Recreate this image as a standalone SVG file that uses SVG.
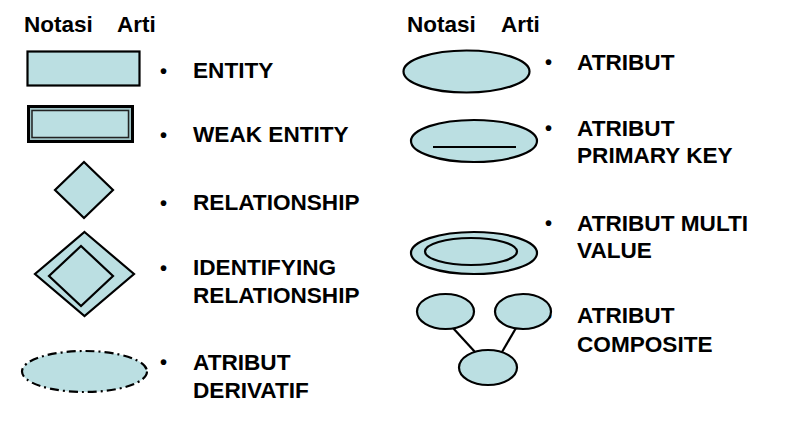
<svg xmlns="http://www.w3.org/2000/svg" width="795" height="424" viewBox="0 0 795 424">
<style>
.hd{font-family:"Liberation Sans",Arial,sans-serif;font-weight:bold;font-size:22.5px;fill:#000}
.lb{font-family:"Liberation Sans",Arial,sans-serif;font-weight:bold;font-size:22.6px;fill:#000}
.bl{font-family:"Liberation Sans",Arial,sans-serif;font-weight:bold;font-size:20px;fill:#000}
.sh{fill:#bbdfe2;stroke:#000;stroke-width:2.2}
.ln{stroke:#000;stroke-width:2.2;fill:none}
</style>
<rect width="795" height="424" fill="#fff"/>
<g id="headers">
<text class="hd" x="24" y="32">Notasi</text>
<text class="hd" x="117" y="32">Arti</text>
<text class="hd" x="407" y="32">Notasi</text>
<text class="hd" x="501" y="32">Arti</text>
</g>
<g id="entity">
<rect class="sh" x="27.5" y="51.5" width="112" height="34" stroke-width="3"/>
<text class="bl" x="160" y="78">•</text>
<text class="lb" x="193" y="78">ENTITY</text>
</g>
<g id="weak-entity">
<rect x="28.5" y="106.5" width="104" height="35" fill="#9fc3c6" stroke="#000" stroke-width="3"/>
<rect x="32" y="110.5" width="96.5" height="27" fill="#bbdfe2" stroke="#222" stroke-width="1.5"/>
<text class="bl" x="160" y="142">•</text>
<text class="lb" x="193" y="142">WEAK ENTITY</text>
</g>
<g id="relationship">
<polygon class="sh" points="84,162 113,190 84,218 55,190"/>
<text class="bl" x="160" y="210">•</text>
<text class="lb" x="193" y="210">RELATIONSHIP</text>
</g>
<g id="identifying-relationship">
<polygon class="sh" points="84.5,232 134,274 84.5,316 35,274"/>
<polygon class="sh" points="81,246 113,276 81,306 49,276"/>
<text class="bl" x="160" y="275">•</text>
<text class="lb" x="193" y="275">IDENTIFYING</text>
<text class="lb" x="193" y="303">RELATIONSHIP</text>
</g>
<g id="atribut-derivatif">
<ellipse class="sh" cx="84.5" cy="371.5" rx="62.5" ry="20.5" stroke-dasharray="9 4 2 4"/>
<text class="bl" x="160" y="369">•</text>
<text class="lb" x="193" y="370">ATRIBUT</text>
<text class="lb" x="193" y="398">DERIVATIF</text>
</g>
<g id="atribut">
<ellipse class="sh" cx="466.5" cy="71.5" rx="63" ry="21"/>
<text class="bl" x="545" y="69">•</text>
<text class="lb" x="577" y="70">ATRIBUT</text>
</g>
<g id="atribut-primary-key">
<ellipse class="sh" cx="474" cy="141" rx="63" ry="21"/>
<line class="ln" x1="433" y1="147" x2="516" y2="147" stroke-width="2.5"/>
<text class="bl" x="545" y="135">•</text>
<text class="lb" x="577" y="136">ATRIBUT</text>
<text class="lb" x="577" y="163">PRIMARY KEY</text>
</g>
<g id="atribut-multi-value">
<ellipse class="sh" cx="474" cy="253" rx="63" ry="21"/>
<ellipse class="sh" cx="471" cy="251.5" rx="46" ry="13.5"/>
<text class="bl" x="545" y="230">•</text>
<text class="lb" x="577" y="231">ATRIBUT MULTI</text>
<text class="lb" x="577" y="258">VALUE</text>
</g>
<g id="connectors">
<line class="ln" x1="453" y1="328" x2="475" y2="352"/>
<line class="ln" x1="516" y1="328" x2="502" y2="352"/>
</g>
<g id="atribut-composite">
<text class="bl" x="545" y="323">•</text>
<ellipse class="sh" cx="445.5" cy="311.5" rx="28.5" ry="17.5"/>
<ellipse class="sh" cx="523" cy="311.5" rx="28" ry="17.5"/>
<ellipse class="sh" cx="488" cy="367.5" rx="29" ry="17.5"/>
<text class="lb" x="577" y="323">ATRIBUT</text>
<text class="lb" x="577" y="352">COMPOSITE</text>
</g>
</svg>
